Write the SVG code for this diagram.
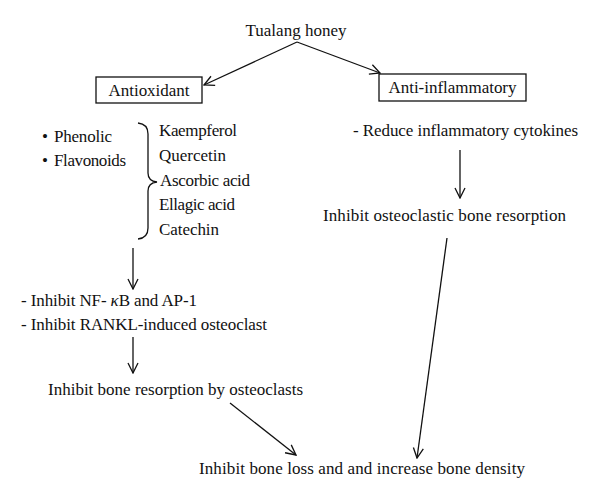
<svg xmlns="http://www.w3.org/2000/svg" width="600" height="500" viewBox="0 0 600 500">
<style>
text{font-family:"Liberation Serif","Times New Roman",serif;font-size:17px;fill:#111}
.box{fill:#fff;stroke:#111;stroke-width:1.3}
.c{stroke:#111;stroke-width:1.3;fill:none}
</style>
<defs>
<marker id="ah" viewBox="0 0 12 12" refX="11" refY="6" markerWidth="12" markerHeight="12" markerUnits="userSpaceOnUse" orient="auto">
<path d="M1,1 L11,6 L1,11" fill="none" stroke="#111" stroke-width="1.3"/>
</marker>
</defs>
<rect width="600" height="500" fill="#fff"/>
<g id="connectors">
<line class="c" x1="297" y1="42" x2="204" y2="85" marker-end="url(#ah)"/>
<line class="c" x1="297" y1="42" x2="380" y2="73" marker-end="url(#ah)"/>
<line class="c" x1="133" y1="248" x2="133" y2="289" marker-end="url(#ah)"/>
<line class="c" x1="133" y1="337" x2="133" y2="373" marker-end="url(#ah)"/>
<line class="c" x1="460" y1="150" x2="460" y2="198" marker-end="url(#ah)"/>
<line class="c" x1="230" y1="403" x2="296" y2="455" marker-end="url(#ah)"/>
<line class="c" x1="447" y1="238" x2="417" y2="458" marker-end="url(#ah)"/>
</g>
<g id="tualang"><text x="296" y="36" text-anchor="middle" textLength="101">Tualang honey</text></g>
<g id="antioxidant">
<rect class="box" x="96" y="77" width="106" height="26"/>
<text x="149" y="96" text-anchor="middle" textLength="81">Antioxidant</text>
</g>
<g id="antiinflammatory">
<rect class="box" x="379" y="74" width="147" height="27"/>
<text x="452.5" y="93" text-anchor="middle" textLength="128">Anti-inflammatory</text>
</g>
<g id="compounds">
<text x="42" y="142">• <tspan x="54" textLength="58">Phenolic</tspan></text>
<text x="42" y="166">• <tspan x="54" textLength="72">Flavonoids</tspan></text>
<path class="c" d="M138,123 Q148,124 148,134 L148,173 Q148,181 157,182 Q148,183 148,191 L148,228 Q148,238 138,239"/>
<text x="159" y="136" textLength="78">Kaempferol</text>
<text x="159" y="161" textLength="67">Quercetin</text>
<text x="160" y="186" textLength="90">Ascorbic acid</text>
<text x="159" y="210" textLength="76">Ellagic acid</text>
<text x="159" y="235" textLength="60">Catechin</text>
</g>
<g id="inhibit-nfkb">
<text x="21" y="306" textLength="176">- Inhibit NF- <tspan font-style="italic">κ</tspan>B and AP-1</text>
<text x="21" y="330" textLength="246">- Inhibit RANKL-induced osteoclast</text>
</g>
<g id="bone-resorption"><text x="48" y="395" textLength="255">Inhibit bone resorption by osteoclasts</text></g>
<g id="cytokines"><text x="353" y="136" textLength="225">- Reduce inflammatory cytokines</text></g>
<g id="osteoclastic"><text x="323" y="221" textLength="243">Inhibit osteoclastic bone resorption</text></g>
<g id="bone-loss"><text x="199" y="474" textLength="326">Inhibit bone loss and and increase bone density</text></g>
</svg>
